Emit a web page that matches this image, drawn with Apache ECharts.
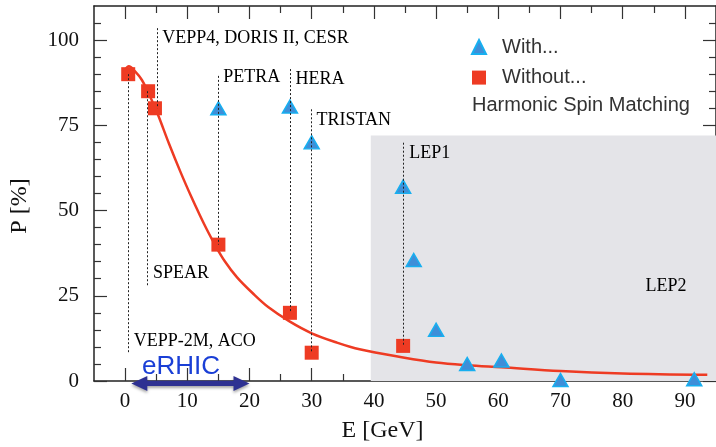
<!DOCTYPE html>
<html>
<head>
<meta charset="utf-8">
<script src="https://cdn.jsdelivr.net/npm/echarts@6/dist/echarts.min.js"></script>
<style>
html,body{margin:0;padding:0;background:#fff;}
#c{width:716px;height:447px;}
</style>
</head>
<body>
<div id="c"></div>
<script>
// ---- data ----
const withE = [15, 26.5, 30, 44.7, 46.4, 50, 55, 60.5, 70, 91.5];
const withP = [80, 80.5, 70, 57, 35.5, 15, 5, 6, 0.3, 0.5];
const withoutE = [0.5, 3.7, 4.8, 15, 26.5, 30, 44.7];
const withoutP = [90, 85, 80, 40, 20, 8.3, 10.3];
const fitE = [0, 0.6, 1.6, 2.7, 3.6, 4.5, 5.4, 7, 9, 10.7, 12, 13.1, 14.5, 16, 18, 20.6, 23, 26.5, 30, 34, 37.7, 44.7, 50, 55, 60.5, 70, 80, 93.6];
const fitP = [91.3, 92.3, 90.8, 88.3, 85, 81.5, 77.6, 69.9, 60.9, 53.8, 48.7, 44.6, 39.8, 35.2, 30.4, 25.6, 21.7, 17.4, 14, 11.3, 9.3, 6.9, 5.4, 4.6, 4.0, 2.9, 2.2, 1.8];
const guideE = [0.5, 3.6, 5.1, 15, 26.5, 30, 44.7];
const guideTop = [90, 85, 103.5, 89.5, 91.5, 79.7, 69.9];
const guideBottom = [8, 28, 80, 40, 20, 8.3, 10.3];
const labelNames = ['VEPP4, DORIS II, CESR', 'PETRA', 'HERA', 'TRISTAN', 'LEP1', 'SPEAR', 'VEPP-2M, ACO', 'LEP2'];
const labelE = [5.9, 15.7, 27.3, 30.7, 45.6, 4.4, 1.3, 83.6];
const labelP = [100.6, 89, 88.5, 76.6, 66.8, 31.6, 11.8, 27.9];
const lep2Range = [39.5, 95];
const lep2Top = 72;
const erhicRange = [1, 20];
const erhicP = -0.7;
const erhicLabel = { name: 'eRHIC', e: 9, p: 4.4 };
const xMajor = [0, 10, 20, 30, 40, 50, 60, 70, 80, 90];
const xMinor = [5, 15, 25, 35, 45, 55, 65, 75, 85];
const yMajor = [0, 25, 50, 75, 100];
const yMinor = [5, 10, 15, 20, 30, 35, 40, 45, 55, 60, 65, 70, 80, 85, 90, 95, 105];
const xRange = [-5, 95];
const yRange = [0, 110];

// ---- chart ----
const chart = echarts.init(document.getElementById('c'));
const RED = '#ee3b23';
const serif = 'Liberation Serif';
const sans = 'Liberation Sans';

function xAxis(pos, vals, len, showLine, showLabel) {
  return {
    type: 'value', position: pos, min: xRange[0], max: xRange[1],
    axisLine: { show: showLine, onZero: false, lineStyle: { color: '#222', width: 1.5 } },
    axisTick: { show: true, inside: true, length: len, customValues: vals, lineStyle: { color: '#333', width: 1.2 } },
    axisLabel: { show: showLabel, customValues: vals, margin: 10, fontFamily: serif, fontSize: 21, color: '#111' },
    splitLine: { show: false }
  };
}
function yAxis(pos, vals, len, showLine, showLabel) {
  return {
    type: 'value', position: pos, min: yRange[0], max: yRange[1],
    axisLine: { show: showLine, onZero: false, lineStyle: { color: '#222', width: 1.5 } },
    axisTick: { show: true, inside: true, length: len, customValues: vals, lineStyle: { color: '#333', width: 1.2 } },
    axisLabel: { show: showLabel, customValues: vals, margin: 15, fontFamily: serif, fontSize: 21, color: '#111' },
    splitLine: { show: false }
  };
}

const option = {
  animation: false,
  backgroundColor: '#fff',
  grid: { left: 94, right: 0, top: 6, bottom: 66 },
  xAxis: [
    xAxis('bottom', xMajor, 13, true, true),
    xAxis('bottom', xMinor, 7, false, false),
    xAxis('top', xMajor, 13, true, false),
    xAxis('top', xMinor, 7, false, false)
  ],
  yAxis: [
    yAxis('left', yMajor, 13, true, true),
    yAxis('left', yMinor, 7, false, false),
    yAxis('right', yMajor, 13, true, false),
    yAxis('right', yMinor, 7, false, false)
  ],
  legend: {
    orient: 'vertical', left: 471, top: 37, padding: 0,
    itemWidth: 14, itemHeight: 14, itemGap: 10.6,
    textStyle: { fontFamily: sans, fontSize: 20, color: '#333', lineHeight: 20, padding: [0, 0, 0, 11] },
    data: [{ name: 'With...', icon: 'triangle' }, { name: 'Without...', icon: 'rect' }]
  },
  graphic: [
    { type: 'text', left: 472, top: 95, style: { text: 'Harmonic Spin Matching', font: '20px "Liberation Sans"', fill: '#333' } },
    { type: 'text', x: 382.5, y: 431, style: { text: 'E [GeV]', font: '24px "Liberation Serif"', fill: '#111', align: 'center', verticalAlign: 'middle' } },
    { type: 'text', x: 20, y: 206, rotation: Math.PI / 2, style: { text: 'P [%]', font: '24px "Liberation Serif"', fill: '#111', align: 'center', verticalAlign: 'middle' } }
  ],
  series: [
    {
      type: 'line', name: 'area', data: [], z: 0, silent: true,
      markArea: {
        silent: true,
        itemStyle: { color: '#e4e4e8' },
        data: [[{ coord: [lep2Range[0], 0] }, { coord: [lep2Range[1], lep2Top] }]]
      }
    },
    {
      type: 'line', name: 'fit', data: fitE.map((e, i) => [e, fitP[i]]),
      smooth: 0.35, showSymbol: false, symbol: 'none', z: 2,
      lineStyle: { color: RED, width: 2.5 }, itemStyle: { color: RED }
    },
    {
      type: 'scatter', name: 'Without...', data: withoutE.map((e, i) => [e, withoutP[i]]),
      symbol: 'rect', symbolSize: 14, z: 3, clip: false,
      itemStyle: { color: RED, opacity: 1 }
    },
    {
      type: 'scatter', name: 'With...', data: withE.map((e, i) => [e, withP[i]]),
      symbol: 'triangle', symbolSize: [15, 13], z: 4, clip: false,
      itemStyle: { color: '#3e8ed8', borderColor: '#17aff0', borderWidth: 1.5, opacity: 1 }
    },
    {
      type: 'scatter', name: 'labels', z: 5, clip: false, silent: true,
      symbol: 'circle', symbolSize: 1, itemStyle: { color: 'rgba(0,0,0,0)' },
      data: labelNames.map((n, i) => ({ name: n, value: [labelE[i], labelP[i]] })),
      label: { show: true, position: 'right', distance: 0, formatter: '{b}', fontFamily: serif, fontSize: 18, color: '#000', textBorderWidth: 0, opacity: 1 },
      markLine: {
        silent: true, symbol: ['none', 'none'], label: { show: false },
        lineStyle: { color: '#222', type: [2, 2], width: 1 },
        data: guideE.map((e, i) => [{ coord: [e, guideTop[i]] }, { coord: [e, guideBottom[i]] }])
      }
    },
    {
      type: 'custom', name: 'erhicArrow', z: 10, clip: false, silent: true,
      encode: { x: [0, 1], y: 2 },
      data: [[erhicRange[0], erhicRange[1], erhicP]],
      renderItem: function (params, api) {
        const a = api.coord([api.value(0), api.value(2)]);
        const b = api.coord([api.value(1), api.value(2)]);
        const y = a[1], hl = 16, hh = 7.5, sh = 2.7;
        return {
          type: 'polygon',
          shape: { points: [[a[0], y], [a[0] + hl, y - hh], [a[0] + hl, y - sh], [b[0] - hl, y - sh], [b[0] - hl, y - hh], [b[0], y], [b[0] - hl, y + hh], [b[0] - hl, y + sh], [a[0] + hl, y + sh], [a[0] + hl, y + hh]] },
          style: { fill: '#2e3192', shadowBlur: 3, shadowColor: 'rgba(0,0,0,0.35)', shadowOffsetY: 2 }
        };
      }
    },
    {
      type: 'scatter', name: 'erhicLabel', z: 10, clip: false, silent: true,
      symbol: 'circle', symbolSize: 1, itemStyle: { color: 'rgba(0,0,0,0)' },
      data: [{ name: erhicLabel.name, value: [erhicLabel.e, erhicLabel.p] }],
      label: { show: true, position: 'top', distance: -14, formatter: '{b}', fontFamily: sans, fontSize: 26, color: '#1a3fd6', textBorderWidth: 0, opacity: 1 }
    }
  ]
};
chart.setOption(option);
</script>
</body>
</html>
